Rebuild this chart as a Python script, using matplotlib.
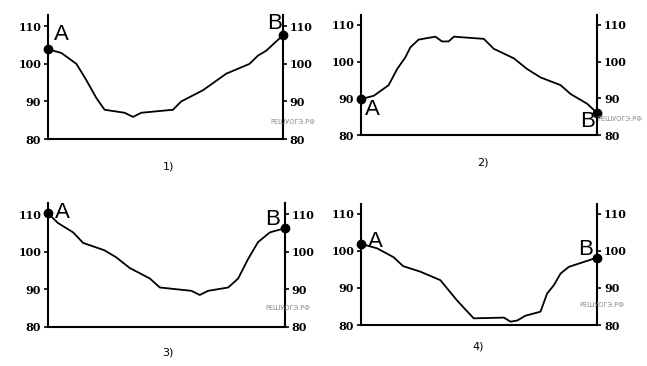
import numpy as np
import matplotlib.pyplot as plt

# profiles: distance (0..100 between A and B) and height
x1 = [0, 5.7, 12.1, 16.3, 20.6, 24.1, 32.6, 36.2, 39.7, 53.2, 56.7, 66.0, 75.9, 85.8, 89.4, 92.9, 100]
h1 = [103.9, 102.9, 100, 95.7, 90.9, 87.8, 87.0, 85.9, 87.0, 87.8, 90.0, 93.0, 97.4, 100, 102.2, 103.5, 107.6]

x2 = [0, 5.4, 11.7, 15.3, 18.8, 20.9, 24.4, 31.5, 34.3, 37.1, 39.3, 52.0, 56.2, 64.7, 70.3, 76.0, 84.5, 88.7, 95.8, 100]
h2 = [89.8, 90.7, 93.6, 98.0, 101.2, 103.9, 106.0, 106.8, 105.5, 105.5, 106.8, 106.2, 103.5, 100.9, 98.0, 95.7, 93.6, 91.2, 88.5, 86.0]

x3 = [0, 4.2, 10.6, 14.8, 23.9, 28.9, 34.5, 43.0, 47.2, 60.6, 64.1, 67.6, 76.1, 80.3, 84.5, 88.7, 93.7, 100]
h3 = [110.3, 107.7, 105.2, 102.4, 100.4, 98.5, 95.7, 92.9, 90.5, 89.6, 88.5, 89.6, 90.5, 92.9, 98.1, 102.6, 105.2, 106.3]

x4 = [0, 6.8, 13.8, 17.8, 25.1, 33.6, 40.7, 47.7, 60.5, 63.3, 66.1, 69.6, 76.0, 78.8, 81.6, 84.5, 88.0, 100]
h4 = [101.9, 100.7, 98.3, 95.9, 94.4, 92.1, 86.6, 81.8, 82.0, 80.9, 81.2, 82.5, 83.6, 88.5, 90.7, 93.9, 95.7, 98.2]

ticks = [80, 90, 100, 110]
captions = ["1)", "2)", "3)", "4)"]
watermark = "РЕШУОГЭ.РФ"

fig = plt.figure(figsize=(6.47, 3.66), dpi=100)

panels = [
    # data, axes rect, ylim top, A pos, B pos (axes fraction), caption pos, watermark pos (fig fraction)
    (x1, h1, [0.0742, 0.620, 0.363, 0.339], 113.0, (0.025, 0.84), (0.995, 0.935), (0.26, 0.545), (0.453, 0.667)),
    (x2, h2, [0.558, 0.631, 0.365, 0.328], 112.7, (0.017, 0.21), (0.99, 0.11), (0.746, 0.555), (0.958, 0.675)),
    (x3, h3, [0.0742, 0.107, 0.366, 0.338], 113.0, (0.03, 0.927), (0.979, 0.87), (0.26, 0.038), (0.445, 0.158)),
    (x4, h4, [0.558, 0.112, 0.365, 0.331], 112.7, (0.03, 0.686), (0.983, 0.62), (0.739, 0.052), (0.93, 0.167)),
]

for i, (x, h, rect, top, posA, posB, posC, posW) in enumerate(panels):
    ax = fig.add_axes(rect)
    ax.plot(x, h, color="black", lw=1.3)
    ax.plot([x[0], x[-1]], [h[0], h[-1]], "o", color="black", ms=6, clip_on=False, zorder=5)
    ax.set_xlim(0, 100)
    ax.set_ylim(80, top)
    ax.set_xticks([])
    ax.set_yticks(ticks)
    ax.tick_params(axis="y", left=True, right=True, labelleft=True, labelright=True,
                   length=3, width=1.2, pad=2)
    for lab in ax.get_yticklabels():
        lab.set_fontfamily("DejaVu Serif")
        lab.set_fontweight("bold")
        lab.set_fontsize(8)
    ax.spines["top"].set_visible(False)
    for s in ["left", "right", "bottom"]:
        ax.spines[s].set_linewidth(1.5)
    ax.text(posA[0], posA[1], "A", transform=ax.transAxes, fontsize=16,
            family="Liberation Sans", ha="left", va="center")
    ax.text(posB[0], posB[1], "B", transform=ax.transAxes, fontsize=16,
            family="Liberation Sans", ha="right", va="center")
    fig.text(posC[0], posC[1], captions[i], fontsize=8, ha="center", va="center")
    fig.text(posW[0], posW[1], watermark, fontsize=4.8, color="#888888", ha="center", va="center")

fig.savefig("out.png", dpi=100)
